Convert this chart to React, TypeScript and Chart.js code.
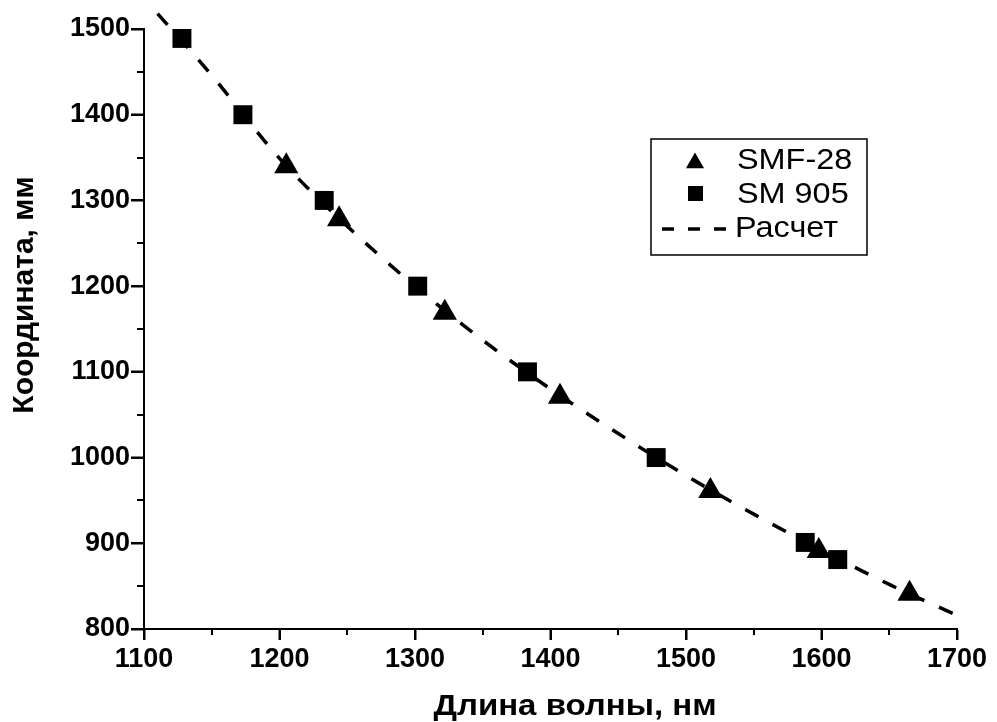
import React, { useEffect, useRef } from "react";
import { Chart, registerables } from "chart.js";

Chart.register(...registerables);

// ---- data ----
const smf28X = [1205, 1244, 1322, 1407, 1518, 1598, 1665];
const smf28Y = [1340, 1278, 1169, 1071, 961, 891, 841];

const sm905X = [1128, 1173, 1233, 1302, 1383, 1478, 1588, 1612];
const sm905Y = [1489, 1400, 1300, 1200, 1100, 1000, 901, 881];

const calcX = [1110, 1150, 1200, 1250, 1300, 1350, 1400, 1450, 1500, 1550, 1600, 1650, 1700];
const calcY = [1518, 1446, 1349, 1270, 1200, 1137, 1080, 1028, 979, 934, 892, 852, 816];

const xTicks = [1100, 1200, 1300, 1400, 1500, 1600, 1700];
const yTicks = [800, 900, 1000, 1100, 1200, 1300, 1400, 1500];
const xMinorTicks = [1150, 1250, 1350, 1450, 1550, 1650];
const yMinorTicks = [850, 950, 1050, 1150, 1250, 1350, 1450];

const seriesLabels = ["SMF-28", "SM 905", "Расчет"];
const xTitle = "Длина волны, нм";
const yTitle = "Координата, мм";

const FONT = "'Liberation Sans', Arial, sans-serif";

function stretchedText(
  ctx: CanvasRenderingContext2D,
  text: string,
  x: number,
  y: number,
  sx: number
) {
  ctx.save();
  ctx.translate(x, y);
  ctx.scale(sx, 1);
  ctx.fillText(text, 0, 0);
  ctx.restore();
}

const decorPlugin = {
  id: "decor",
  afterDraw(chart: any) {
    const ctx = chart.ctx as CanvasRenderingContext2D;
    const xs = chart.scales.x;
    const ys = chart.scales.y;
    const area = chart.chartArea;
    ctx.save();
    // major + minor ticks
    ctx.strokeStyle = "#000";
    ctx.lineWidth = 2;
    ctx.beginPath();
    xTicks.forEach((v) => {
      const px = Math.round(xs.getPixelForValue(v));
      ctx.moveTo(px, area.bottom);
      ctx.lineTo(px, area.bottom + 11);
    });
    yTicks.forEach((v) => {
      const py = Math.round(ys.getPixelForValue(v));
      ctx.moveTo(area.left, py);
      ctx.lineTo(area.left - 13, py);
    });
    xMinorTicks.forEach((v) => {
      const px = Math.round(xs.getPixelForValue(v));
      ctx.moveTo(px, area.bottom);
      ctx.lineTo(px, area.bottom + 6);
    });
    yMinorTicks.forEach((v) => {
      const py = Math.round(ys.getPixelForValue(v));
      ctx.moveTo(area.left, py);
      ctx.lineTo(area.left - 7, py);
    });
    ctx.stroke();

    // axis titles
    ctx.fillStyle = "#000";
    ctx.textBaseline = "alphabetic";
    ctx.textAlign = "center";
    ctx.font = `bold 30px ${FONT}`;
    stretchedText(ctx, xTitle, 575, 715, 1.1);
    ctx.save();
    ctx.translate(33, 295);
    ctx.rotate(-Math.PI / 2);
    ctx.fillText(yTitle, 0, 0);
    ctx.restore();

    // legend
    const bx = 651, by = 139, bw = 216, bh = 116;
    ctx.lineWidth = 1.5;
    ctx.strokeRect(bx, by, bw, bh);
    // triangle
    const tr = 10.5;
    const tcx = 695, tcy = 163;
    ctx.beginPath();
    ctx.moveTo(tcx, tcy - tr);
    ctx.lineTo(tcx + tr * 0.866, tcy + tr * 0.5);
    ctx.lineTo(tcx - tr * 0.866, tcy + tr * 0.5);
    ctx.closePath();
    ctx.fill();
    // square
    ctx.fillRect(688, 186, 15, 15);
    // dashes
    ctx.lineWidth = 3.5;
    ctx.setLineDash([12, 14]);
    ctx.beginPath();
    ctx.moveTo(662, 229);
    ctx.lineTo(727, 229);
    ctx.stroke();
    ctx.setLineDash([]);
    // texts
    ctx.font = `30px ${FONT}`;
    ctx.textAlign = "left";
    stretchedText(ctx, seriesLabels[0], 737, 169, 1.08);
    stretchedText(ctx, seriesLabels[1], 737, 203, 1.08);
    stretchedText(ctx, seriesLabels[2], 735, 237, 1.08);
    ctx.restore();
  },
};

export default function App() {
  const ref = useRef<HTMLCanvasElement | null>(null);
  useEffect(() => {
    document.body.style.margin = "0";
    const canvas = ref.current!;
    const tickFont = { family: FONT, size: 27, weight: "bold" as const };
    const chart = new Chart(canvas, {
      type: "scatter",
      data: {
        datasets: [
          {
            label: seriesLabels[0],
            data: smf28X.map((x, i) => ({ x, y: smf28Y[i] })),
            pointStyle: "triangle",
            pointRadius: 14,
            pointBorderWidth: 0,
            backgroundColor: "#000",
            borderColor: "#000",
            showLine: false,
          },
          {
            label: seriesLabels[1],
            data: sm905X.map((x, i) => ({ x, y: sm905Y[i] })),
            pointStyle: "rect",
            pointRadius: 13.4,
            pointBorderWidth: 0,
            backgroundColor: "#000",
            borderColor: "#000",
            showLine: false,
          },
          {
            label: seriesLabels[2],
            data: calcX.map((x, i) => ({ x, y: calcY[i] })),
            showLine: true,
            pointRadius: 0,
            borderColor: "#000",
            borderWidth: 3.5,
            borderDash: [15, 16],
            cubicInterpolationMode: "monotone",
            clip: false as any,
          } as any,
        ],
      },
      options: {
        animation: false,
        responsive: false,
        devicePixelRatio: 1,
        layout: { padding: { top: 29, right: 40, left: 0, bottom: 0 } },
        plugins: { legend: { display: false }, tooltip: { enabled: false } },
        events: [],
        scales: {
          x: {
            type: "linear",
            min: 1100,
            max: 1700,
            afterBuildTicks: (s: any) => {
              s.ticks = xTicks.map((v) => ({ value: v }));
            },
            afterFit: (s: any) => {
              s.height = 93;
            },
            ticks: {
              color: "#000",
              font: tickFont,
              padding: 3,
              maxRotation: 0,
              callback: (v: any) => String(v),
            },
            grid: {
              drawOnChartArea: false,
              drawTicks: true,
              tickLength: 11,
              tickWidth: 2,
              tickColor: "#000",
              color: "#000",
            },
            border: { display: true, width: 2, color: "#000" },
          },
          y: {
            type: "linear",
            min: 800,
            max: 1500,
            afterBuildTicks: (s: any) => {
              s.ticks = yTicks.map((v) => ({ value: v }));
            },
            afterFit: (s: any) => {
              s.width = 144;
            },
            ticks: {
              color: "#000",
              font: tickFont,
              padding: 1,
              callback: (v: any) => String(v),
            },
            grid: {
              drawOnChartArea: false,
              drawTicks: true,
              tickLength: 13,
              tickWidth: 2,
              tickColor: "#000",
              color: "#000",
            },
            border: { display: true, width: 2, color: "#000" },
          },
        },
      },
      plugins: [decorPlugin],
    });
    return () => chart.destroy();
  }, []);
  return (
    <div style={{ width: 997, height: 722, background: "#fff" }}>
      <canvas ref={ref} width={997} height={722} style={{ display: "block" }} />
    </div>
  );
}
